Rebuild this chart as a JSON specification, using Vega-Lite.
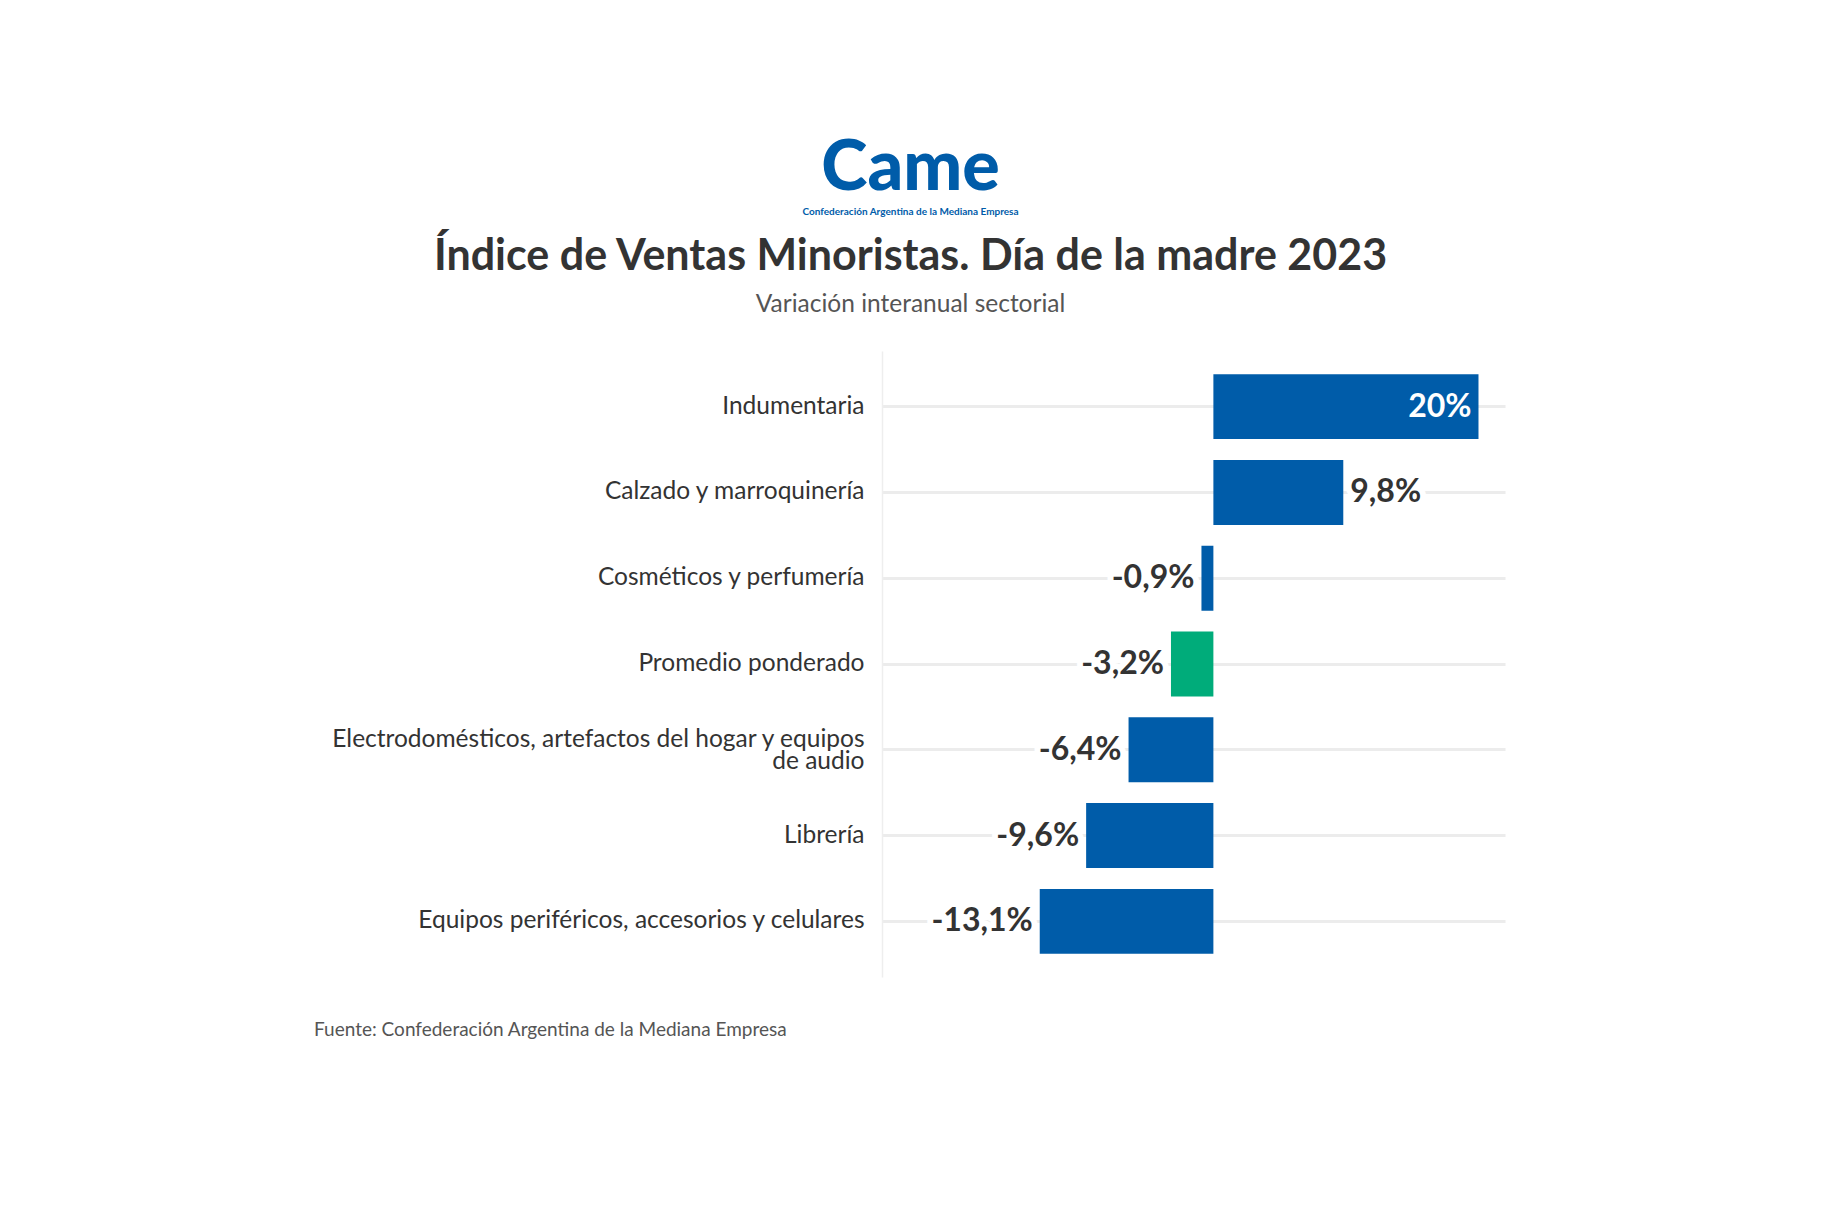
{
  "$schema": "https://vega.github.io/schema/vega-lite/v6.json",
  "background": "white",
  "padding": {"left": 314, "top": 133, "right": 300, "bottom": 150},
  "config": {"view": {"stroke": null}, "font": "Lato"},
  "title": {
    "text": "Fuente: Confederación Argentina de la Mediana Empresa",
    "orient": "bottom", "anchor": "start", "frame": "bounds", "dx": -16,
    "fontSize": 19, "fontWeight": "normal", "color": "#555555", "offset": 44
  },
  "vconcat": [
    {
      "title": {
        "text": "Came",
        "subtitle": "Confederación Argentina de la Mediana Empresa",
        "anchor": "middle", "frame": "bounds", "dx": -7,
        "fontSize": 70, "fontWeight": 900, "color": "#005CA9",
        "subtitleColor": "#005CA9", "subtitleFontSize": 10, "subtitleFontWeight": "bold",
        "subtitlePadding": 2, "offset": 18
      },
      "vconcat": [
        {
          "title": {
            "text": "Índice de Ventas Minoristas. Día de la madre 2023",
            "subtitle": "Variación interanual sectorial",
            "anchor": "middle", "frame": "bounds", "dx": -7,
            "fontSize": 43, "fontWeight": "bold", "color": "#333333",
            "subtitleFontSize": 24.5, "subtitleColor": "#555555", "subtitleFontWeight": "normal",
            "subtitlePadding": 14, "offset": 35
          },
          "width": 623,
          "height": 626,
          "data": {
            "values": [
              {"cat": "Indumentaria", "value": 20, "label": "20%", "tipo": "Sector"},
              {"cat": "Calzado y marroquinería", "value": 9.8, "label": "9,8%", "tipo": "Sector"},
              {"cat": "Cosméticos y perfumería", "value": -0.9, "label": "-0,9%", "tipo": "Sector"},
              {"cat": "Promedio ponderado", "value": -3.2, "label": "-3,2%", "tipo": "Promedio"},
              {"cat": "Electrodomésticos, artefactos del hogar y equipos de audio", "value": -6.4, "label": "-6,4%", "tipo": "Sector"},
              {"cat": "Librería", "value": -9.6, "label": "-9,6%", "tipo": "Sector"},
              {"cat": "Equipos periféricos, accesorios y celulares", "value": -13.1, "label": "-13,1%", "tipo": "Sector"}
            ]
          },
          "encoding": {
            "y": {
              "field": "cat", "type": "nominal", "sort": null,
              "scale": {"paddingInner": 0.243, "paddingOuter": 0.27},
              "axis": {
                "title": null, "domain": true, "domainColor": "#eeeeee", "domainWidth": 1.5,
                "ticks": false, "grid": true, "gridColor": "#ececec", "gridWidth": 3,
                "bandPosition": 0.5,
                "labelFontSize": 24.5, "labelColor": "#333333", "labelPadding": 18,
                "labelLimit": 0, "labelLineHeight": 22,
                "labelOffset": {"condition": {"test": "datum.value == 'Electrodomésticos, artefactos del hogar y equipos de audio'", "value": -9.5}, "value": 0},
                "labelExpr": "datum.value == 'Electrodomésticos, artefactos del hogar y equipos de audio' ? ['Electrodomésticos, artefactos del hogar y equipos', 'de audio'] : datum.value"
              }
            },
            "x": {
              "field": "value", "type": "quantitative",
              "scale": {"domain": [-25, 22], "nice": false, "zero": true},
              "axis": null
            }
          },
          "layer": [
            {
              "mark": {"type": "bar"},
              "encoding": {
                "color": {
                  "field": "tipo", "type": "nominal",
                  "scale": {"domain": ["Sector", "Promedio"], "range": ["#005CA9", "#00AC7A"]},
                  "legend": null
                }
              }
            },
            {
              "transform": [{"filter": "datum.value > 0 && datum.value < 15"}],
              "mark": {"type": "text", "align": "left", "baseline": "middle", "dx": 7, "fontSize": 32, "fontWeight": "bold", "color": "white", "stroke": "white", "strokeWidth": 12, "strokeJoin": "round"},
              "encoding": {"text": {"field": "label"}}
            },
            {
              "transform": [{"filter": "datum.value < 0"}],
              "mark": {"type": "text", "align": "right", "baseline": "middle", "dx": -7, "fontSize": 32, "fontWeight": "bold", "color": "white", "stroke": "white", "strokeWidth": 12, "strokeJoin": "round"},
              "encoding": {"text": {"field": "label"}}
            },
            {
              "transform": [{"filter": "datum.value > 0 && datum.value < 15"}],
              "mark": {"type": "text", "align": "left", "baseline": "middle", "dx": 7, "fontSize": 32, "fontWeight": "bold", "color": "#333333"},
              "encoding": {"text": {"field": "label"}}
            },
            {
              "transform": [{"filter": "datum.value < 0"}],
              "mark": {"type": "text", "align": "right", "baseline": "middle", "dx": -7, "fontSize": 32, "fontWeight": "bold", "color": "#333333"},
              "encoding": {"text": {"field": "label"}}
            },
            {
              "transform": [{"filter": "datum.value >= 15"}],
              "mark": {"type": "text", "align": "right", "baseline": "middle", "dx": -7, "fontSize": 32, "fontWeight": "bold", "color": "white"},
              "encoding": {"text": {"field": "label"}}
            }
          ]
        }
      ]
    }
  ]
}
